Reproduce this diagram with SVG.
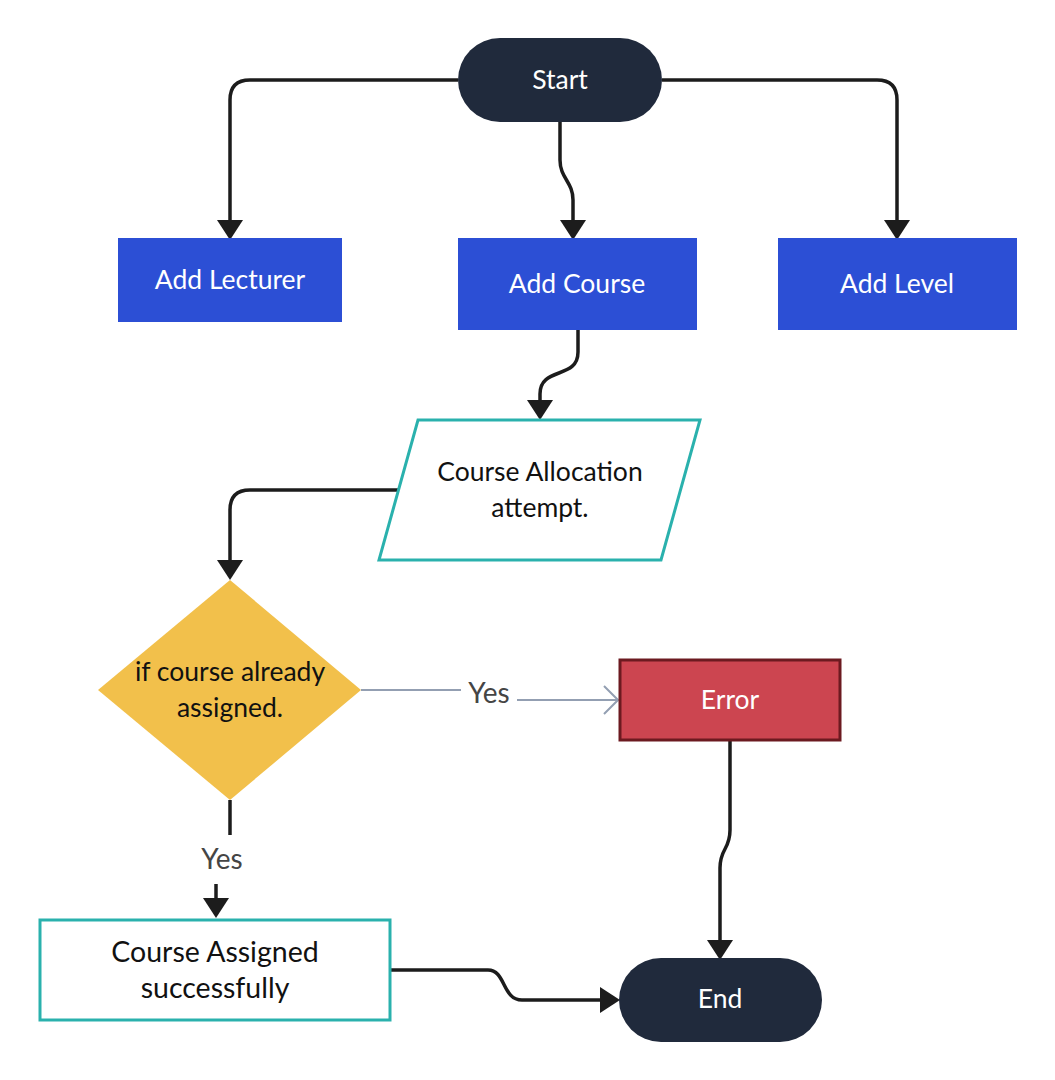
<svg xmlns="http://www.w3.org/2000/svg" width="1055" height="1080" viewBox="0 0 1055 1080">
<style>
text{font-family:Lato,"Noto Sans","Liberation Sans",sans-serif;font-size:26.5px;text-anchor:middle;dominant-baseline:central}
.w{fill:#ffffff}
.k{fill:#111111}
.pill{fill:#202a3c}
.blue{fill:#2c4fd5}
.teal{fill:#ffffff;stroke:#2ab1ad;stroke-width:3}
.c{fill:none;stroke:#1c1c1c;stroke-width:3.5}
.g{fill:none;stroke:#939fb2;stroke-width:2}
.lbl{fill:#454545;font-size:28px}
.big{font-size:28.5px}
</style>
<defs>
<marker id="ah" markerUnits="userSpaceOnUse" viewBox="0 0 20 26" refX="10" refY="13" markerWidth="20" markerHeight="26" orient="auto">
<path d="M0,0 L20,13 L0,26 z" fill="#1c1c1c"/>
</marker>
<marker id="oh" markerUnits="userSpaceOnUse" viewBox="0 0 16 30" refX="15" refY="15" markerWidth="16" markerHeight="30" orient="auto">
<path d="M1,1 L15,15 L1,29" fill="none" stroke="#939fb2" stroke-width="2"/>
</marker>
</defs>
<g id="connectors">
<path class="c" d="M458,80 H250 Q230,80 230,100 V230" marker-end="url(#ah)"/>
<path class="c" d="M662,80 H877 Q897,80 897,100 V230" marker-end="url(#ah)"/>
<path class="c" d="M560,122 V160 C560,178 573,182 573,200 V230" marker-end="url(#ah)"/>
<path class="c" d="M578,330 V352 C578,380 540,366 540,394 V410" marker-end="url(#ah)"/>
<path class="c" d="M401,490 H250 Q230,490 230,510 V570" marker-end="url(#ah)"/>
<path class="g" d="M361,690 H461"/>
<path class="g" d="M517,700 H618" marker-end="url(#oh)"/>
<text class="lbl" x="489" y="692">Yes</text>
<path class="c" d="M230,800 V835"/>
<text class="lbl" x="222" y="858">Yes</text>
<path class="c" d="M216,884 V908" marker-end="url(#ah)"/>
<path class="c" d="M730,741 V830 C730,850 720,848 720,868 V950" marker-end="url(#ah)"/>
<path class="c" d="M390,970 H488 C506,970 502,1000 522,1000 H610" marker-end="url(#ah)"/>
</g>
<g id="start">
<rect class="pill" x="458" y="38" width="204" height="84" rx="42"/>
<text class="w" x="560" y="79">Start</text>
</g>
<g id="add-lecturer">
<rect class="blue" x="118" y="238" width="224" height="84"/>
<text class="w" x="230" y="279">Add Lecturer</text>
</g>
<g id="add-course">
<rect class="blue" x="458" y="238" width="239" height="92"/>
<text class="w" x="577" y="283">Add Course</text>
</g>
<g id="add-level">
<rect class="blue" x="778" y="238" width="239" height="92"/>
<text class="w" x="897" y="283">Add Level</text>
</g>
<g id="course-allocation">
<polygon class="teal" points="418,420 700,420 661,560 379,560"/>
<text class="k" x="540" y="471">Course Allocation</text>
<text class="k" x="540" y="507">attempt.</text>
</g>
<g id="decision">
<polygon fill="#f2c04b" points="230,580 361,690 230,800 98,690"/>
<text class="k" x="230" y="671">if course already</text>
<text class="k" x="230" y="707">assigned.</text>
</g>
<g id="error">
<rect x="620" y="660" width="220" height="80" fill="#cc4550" stroke="#6c1a20" stroke-width="3"/>
<text class="w" x="730" y="699">Error</text>
</g>
<g id="course-assigned">
<rect class="teal" x="40" y="920" width="350" height="100"/>
<text class="k big" x="215" y="951">Course Assigned</text>
<text class="k big" x="215" y="987">successfully</text>
</g>
<g id="end">
<rect class="pill" x="619" y="958" width="203" height="84" rx="42"/>
<text class="w" x="720" y="998">End</text>
</g>
</svg>
